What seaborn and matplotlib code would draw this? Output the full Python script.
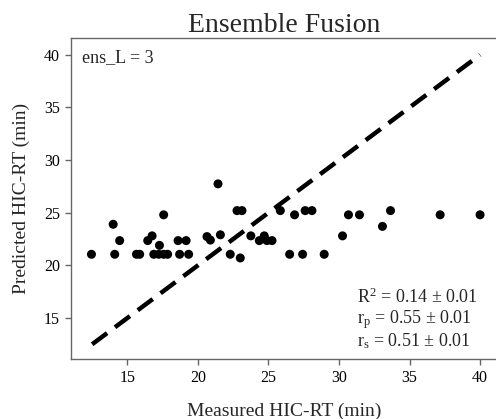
import matplotlib
matplotlib.use("Agg")
import matplotlib.pyplot as plt
import seaborn as sns
import pandas as pd

# measured vs predicted retention times (min)
measured = [12.45, 13.99, 14.10, 14.45, 15.64, 15.87, 16.44, 16.75, 17.27, 17.57,
            16.87, 17.22, 17.57, 17.85, 18.59, 19.16, 18.70, 19.34, 21.42, 22.77,
            23.12, 20.64, 20.88, 21.59, 22.29, 23.00, 23.75, 24.35, 24.70, 24.89,
            25.25, 25.84, 26.85, 27.60, 28.08, 26.50, 27.42, 28.95, 30.25, 30.67,
            31.45, 33.08, 33.65, 37.17, 40.00]
predicted = [21.05, 23.90, 21.05, 22.35, 21.05, 21.05, 22.35, 22.80, 21.90, 24.80,
             21.05, 21.05, 21.05, 21.05, 22.35, 22.35, 21.05, 21.05, 27.74, 25.20,
             25.20, 22.73, 22.40, 22.90, 21.05, 20.70, 22.80, 22.35, 22.80, 22.35,
             22.35, 25.20, 24.80, 25.20, 25.20, 21.05, 21.05, 21.05, 22.80, 24.80,
             24.80, 23.70, 25.20, 24.80, 24.80]
identity = [12.5, 40.0]
stats_lines = ["R$^2$ = 0.14 ± 0.01",
               "r$_\\mathrm{p}$ = 0.55 ± 0.01",
               "r$_\\mathrm{s}$ = 0.51 ± 0.01"]
ticks = [15, 20, 25, 30, 35, 40]

sns.set_theme(style="ticks")
plt.rcParams["font.family"] = ["Liberation Serif", "DejaVu Serif"]
plt.rcParams["mathtext.fontset"] = "custom"
plt.rcParams["mathtext.rm"] = "Liberation Serif"
plt.rcParams["mathtext.it"] = "Liberation Serif:italic"

df = pd.DataFrame({"measured": measured, "predicted": predicted})

fig = plt.figure(figsize=(4.96, 4.19), dpi=100)
ax = fig.add_axes([71 / 496, 1 - 359 / 419, 426 / 496, 321 / 419])

ax.plot(identity, identity, color="black", lw=3.2, dashes=(4.2, 2.2),
        solid_capstyle="butt", dash_capstyle="butt", zorder=1)
sns.scatterplot(data=df, x="measured", y="predicted", ax=ax, color="black",
                s=42, edgecolor="none", zorder=2)

ax.set_xlim(11.0, 41.2)
ax.set_ylim(11.1, 41.6)
ax.set_xticks(ticks)
ax.set_yticks(ticks)

for side in ["left", "bottom", "top", "right"]:
    ax.spines[side].set_color("#666666")
    ax.spines[side].set_linewidth(1.0)
ax.tick_params(axis="both", colors="#666666", labelcolor="black",
               labelsize=11.5, length=4, width=1.0, pad=4)

ax.set_xlabel("Measured HIC-RT (min)", fontsize=14, labelpad=12)
ax.set_ylabel("Predicted HIC-RT (min)", fontsize=14, labelpad=10)
ax.set_title("Ensemble Fusion", fontsize=20, pad=3)

ax.text(0.025, 0.965, "ens_L = 3", transform=ax.transAxes, fontsize=13,
        ha="left", va="top")
ax.text(0.672, 0.025, "\n".join(stats_lines), transform=ax.transAxes,
        fontsize=13, ha="left", va="bottom", linespacing=1.05)

fig.savefig("out.png", dpi=100)
plt.close(fig)
